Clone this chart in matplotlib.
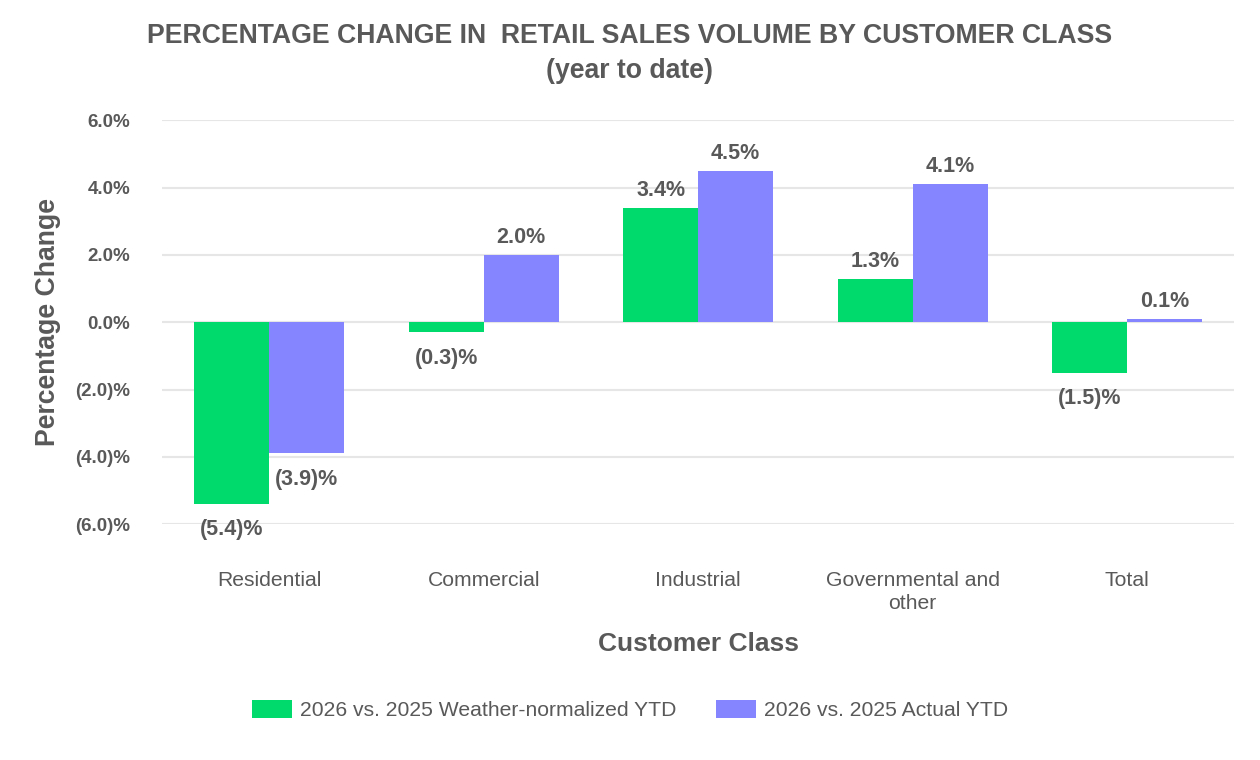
import matplotlib
matplotlib.use("Agg")
import matplotlib.pyplot as plt
import numpy as np

plt.rcParams['font.family'] = ['Liberation Sans', 'DejaVu Sans']

# data
categories = ['Residential', 'Commercial', 'Industrial', 'Governmental and\nother', 'Total']
weather_norm = [-5.4, -0.3, 3.4, 1.3, -1.5]
actual = [-3.9, 2.0, 4.5, 4.1, 0.1]
series_names = ['2026 vs. 2025 Weather-normalized YTD', '2026 vs. 2025 Actual YTD']
yticks = [-6, -4, -2, 0, 2, 4, 6]

grey = '#595959'
green = '#00D96B'
purple = '#8585FF'

def fmt(v):
    if v < 0:
        return '(%.1f)%%' % abs(v)
    return '%.1f%%' % v

fig = plt.figure(figsize=(12.6, 7.6), dpi=100)
ax = fig.add_axes([0.1286, 0.3105, 0.851, 0.531])

x = np.arange(len(categories))
w = 0.35
b1 = ax.bar(x - w / 2, weather_norm, w, color=green, label=series_names[0], zorder=3)
b2 = ax.bar(x + w / 2, actual, w, color=purple, label=series_names[1], zorder=3)

for bars, vals in [(b1, weather_norm), (b2, actual)]:
    for b, v in zip(bars, vals):
        cx = b.get_x() + b.get_width() / 2
        if v >= 0:
            ax.annotate(fmt(v), (cx, v), xytext=(0, 5), textcoords='offset points',
                        ha='center', va='bottom', fontsize=15.5, fontweight='bold', color=grey)
        else:
            ax.annotate(fmt(v), (cx, v), xytext=(0, -11), textcoords='offset points',
                        ha='center', va='top', fontsize=15.5, fontweight='bold', color=grey)

ax.set_xlim(-0.5, len(categories) - 0.5)
ax.set_ylim(-6, 6)
ax.set_yticks(yticks)
ax.set_yticklabels([fmt(float(t)) for t in yticks], fontsize=13.5, fontweight='bold', color=grey)
ax.set_xticks(x)
ax.set_xticklabels(categories, fontsize=15.2, color=grey, linespacing=1.25)
ax.tick_params(axis='both', length=0)
ax.tick_params(axis='x', pad=34)
ax.tick_params(axis='y', pad=23)
ax.grid(axis='y', color='#E6E6E6', linewidth=1.5, zorder=0)
for s in ax.spines.values():
    s.set_visible(False)

ax.set_ylabel('Percentage Change', fontsize=19.2, fontweight='bold', color=grey, labelpad=10)
ax.set_xlabel('Customer Class', fontsize=19, fontweight='bold', color=grey, labelpad=14)

fig.text(0.5, 0.952, 'PERCENTAGE CHANGE IN  RETAIL SALES VOLUME BY CUSTOMER CLASS',
         ha='center', va='center', fontsize=19.2, fontweight='bold', color=grey)
fig.text(0.5, 0.907, '(year to date)', ha='center', va='center',
         fontsize=19.2, fontweight='bold', color=grey)

fig.legend(handles=[b1, b2], loc='center', bbox_to_anchor=(0.5, 0.066), ncol=2,
           frameon=False, fontsize=15.2, handlelength=1.9, handleheight=1.0,
           handletextpad=0.38, columnspacing=1.9, labelcolor=grey)

fig.savefig('out.png', dpi=100)
